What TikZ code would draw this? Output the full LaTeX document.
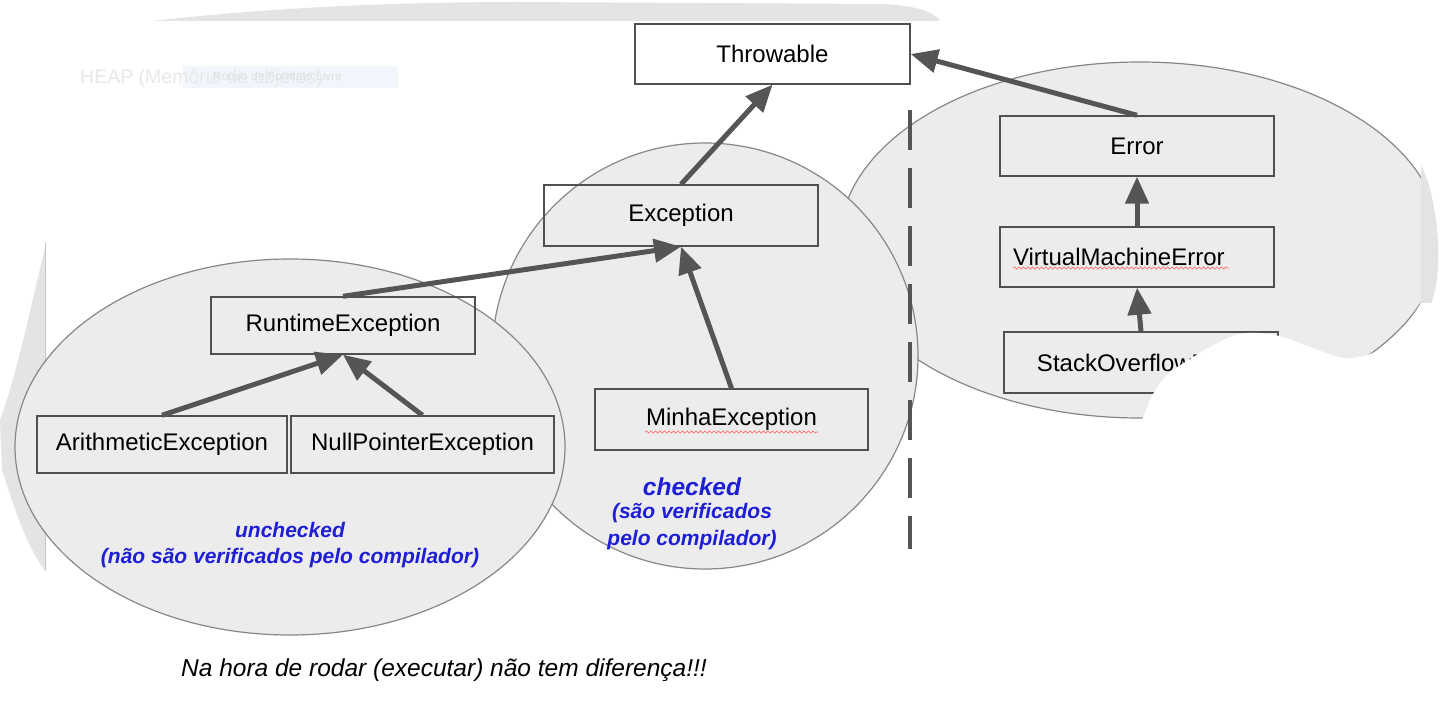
\documentclass[tikz,border=0pt]{standalone}
\usepackage{fontspec}
\setmainfont{Liberation Sans}
\usetikzlibrary{arrows.meta,decorations.pathmorphing}
\definecolor{ellfill}{RGB}{236,236,236}
\definecolor{elldraw}{RGB}{135,135,135}
\definecolor{boxdraw}{RGB}{80,80,80}
\definecolor{arrcol}{RGB}{85,85,85}
\definecolor{lblblue}{RGB}{30,30,215}
\definecolor{artgray}{RGB}{228,228,228}
\definecolor{fadetext}{RGB}{232,232,232}
\definecolor{fadebox}{RGB}{241,246,253}
\begin{document}
\begin{tikzpicture}[x=1pt,y=-1pt,
  cls/.style={draw=boxdraw, line width=1.4pt, minimum width=#1, minimum height=60pt,
    inner sep=0pt, font=\fontsize{24}{28}\selectfont},
  cls/.default=274pt,
  ell/.style={fill=ellfill, draw=elldraw, line width=1.2pt},
  arr/.style={draw=arrcol, line width=5pt, -{Triangle[length=27pt,width=23pt]}},
  bluelbl/.style={text=lblblue, align=center, inner sep=0pt},
  squig/.style={draw=red!55, line width=0.7pt, decorate,
    decoration={snake, amplitude=1.1pt, segment length=4.5pt}}
]
\useasboundingbox (0,0) rectangle (1442,719);
\fill[white] (0,0) rectangle (1442,719);

% screenshot artefacts
\fill[artgray] (152,21) .. controls (250,10) and (370,2) .. (520,2) -- (880,4)
  .. controls (915,5) and (935,12) .. (940,21) -- cycle;
\fill[artgray] (46,243) -- (46,572) .. controls (25,545) and (12,500) .. (2,470)
  -- (0,420) .. controls (15,380) and (28,320) .. cycle;
\draw[gray!45, line width=1pt] (45,243) -- (45,570);
\fill[fadebox] (183,66) rectangle (398,88);
\node[text=fadetext, font=\fontsize{19.5}{22}\selectfont, anchor=west, inner sep=0pt]
  (heap) at (80,78) {HEAP (Memória de objetos)};
\node[text=gray!25, inner sep=0pt, font=\fontsize{12}{14}\selectfont, anchor=west]
  (rotulo) at (213,76) {Rótulo de Formato Livre};

% groups
\begin{scope}
  \clip (800,40) rectangle (1421,440);
  \draw[ell] (1140,240) ellipse [x radius=300, y radius=178];
\end{scope}
\fill[gray!22] (1421,165) .. controls (1436,195) and (1442,250) .. (1436,285)
  .. controls (1432,305) and (1426,318) .. (1415,330) -- (1421,300) -- cycle;
\draw[ell] (705,356) circle [radius=213];
\draw[ell] (290,447) ellipse [x radius=275, y radius=188];

% dashed divider
\coordinate (dtop) at (910,110);
\coordinate (dbot) at (910,549);
\draw[arrcol, line width=4.5pt, dash pattern=on 40pt off 18pt] (dtop) -- (dbot);

% classes
\node[cls=275pt] (thr) at (772.5,54) {Throwable};
\node[cls, minimum height=61pt] (exc) at (681,215.5) {Exception};
\node[cls=264pt, minimum height=57pt] (rt) at (343,325.5) {RuntimeException};
\node[cls=250pt, minimum height=57pt] (ar) at (162,444.5) {ArithmeticException};
\node[cls=263pt, minimum height=57pt] (np) at (422.5,444.5) {NullPointerException};
\node[cls=273pt, minimum height=61pt] (minha) at (731.5,419.5) {MinhaException};
\node[cls] (err) at (1137,146) {Error};
\node[cls, text width=248pt, align=left, inner xsep=13pt] (vme) at (1137,257) {VirtualMachineError};
\node[cls, minimum height=61pt] (so) at (1141,362.5) {StackOverflowError};

% spell-check squiggles
\draw[squig] (645,432) -- (818,432);
\draw[squig] (1013,268) -- (1229,268);

% inheritance arrows
\draw[arr] (exc.north) -- (thr.south);
\draw[arr] (err.north) -- (thr.east);
\draw[arr] (rt.north) -- (exc.south);
\draw[arr] (minha.north) -- (exc.south);
\draw[arr] (ar.north) -- (rt.south);
\draw[arr] (np.north) -- (rt.south);
\draw[arr] (vme.north) -- (err.south);
\draw[arr] (so.north) -- (vme.south);

% labels
\node[bluelbl, font=\bfseries\itshape\fontsize{21}{26}\selectfont] (unch) at (290,545)
  {unchecked\\(não são verificados pelo compilador)};
\node[bluelbl, font=\bfseries\itshape\fontsize{24.5}{28}\selectfont] (chk) at (692,487) {checked};
\node[bluelbl, font=\bfseries\itshape\fontsize{21}{27}\selectfont] (chk2) at (692,527)
  {(são verificados\\pelo compilador)};
\node[font=\itshape\fontsize{24.5}{28}\selectfont, inner sep=0pt] (note) at (444,670)
  {Na hora de rodar (executar) não tem diferença!!!};

% white cut-out over the lower right
\fill[white] plot[smooth, tension=0.6] coordinates {(1143,418) (1153,394) (1168,374)
  (1187,361) (1210,347) (1240,334) (1275,335) (1310,347) (1345,358) (1375,352)
  (1400,333) (1421,303)} -- (1442,303) -- (1442,440) -- (1120,440) -- cycle;
\end{tikzpicture}
\end{document}
